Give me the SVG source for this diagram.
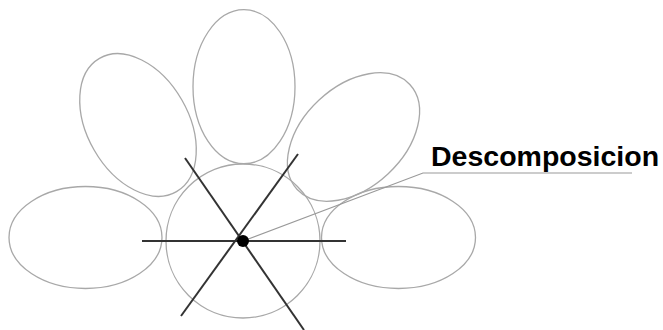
<svg xmlns="http://www.w3.org/2000/svg" width="663" height="330" viewBox="0 0 663 330">
<style>
.petal{fill:none;stroke:#a8a8a8;stroke-width:1.3}
.axis{stroke:#333;stroke-width:2;stroke-linecap:butt}
.leader{fill:none;stroke:#999;stroke-width:1.1}
.lbl{font-family:"Liberation Sans",Arial,sans-serif;font-weight:bold;font-size:28.5px;fill:#000}
</style>
<rect width="663" height="330" fill="#fff"/>
<g id="petal-top"><ellipse class="petal" cx="244" cy="86.7" rx="51" ry="77"/></g>
<g id="petal-upper-left"><ellipse class="petal" cx="138" cy="125" rx="50.5" ry="77" transform="rotate(-30 138 125)"/></g>
<g id="petal-upper-right"><ellipse class="petal" cx="353.5" cy="137" rx="50.5" ry="77" transform="rotate(47 353.5 137)"/></g>
<g id="petal-left"><ellipse class="petal" cx="85.5" cy="237.5" rx="76.5" ry="51"/></g>
<g id="petal-right"><ellipse class="petal" cx="398.5" cy="237.5" rx="77" ry="51"/></g>
<g id="center"><circle class="petal" cx="243" cy="241" r="77"/></g>
<g id="connectors">
<line class="axis" x1="142" y1="241" x2="346" y2="241"/>
<line class="axis" x1="185" y1="158" x2="304" y2="330"/>
<line class="axis" x1="298" y1="154" x2="181" y2="316"/>
<polyline class="leader" points="243,241 423,173 632,173"/>
</g>
<g id="hub"><circle cx="243" cy="241" r="6" fill="#000"/></g>
<g id="label"><text class="lbl" x="431" y="166">Descomposicion</text></g>
</svg>
